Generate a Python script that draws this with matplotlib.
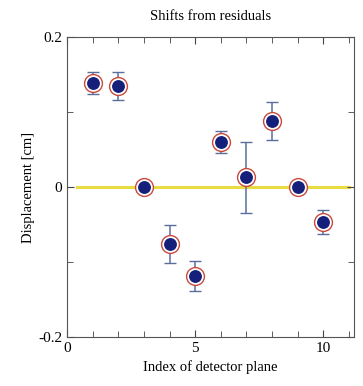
import numpy as np
import matplotlib
matplotlib.use("Agg")
import matplotlib.pyplot as plt
from matplotlib.ticker import MultipleLocator, FuncFormatter

plt.rcParams['font.family'] = ['Liberation Serif', 'DejaVu Serif']
plt.rcParams['axes.unicode_minus'] = False

# data
plane = np.array([1, 2, 3, 4, 5, 6, 7, 8, 9, 10])
shift = np.array([0.139, 0.135, 0.0, -0.076, -0.119, 0.060, 0.013, 0.088, 0.0, -0.047])
shift_err = np.array([0.015, 0.019, 0.0, 0.025, 0.020, 0.015, 0.047, 0.025, 0.0, 0.016])
zero_x = [0.4, 11.0]

fig = plt.figure(figsize=(3.63, 3.86), dpi=100)
ax = fig.add_axes([0.185, 0.127, 0.79, 0.777])

ax.plot(zero_x, [0, 0], color='#e8dc40', lw=2.2, zorder=1)
ax.errorbar(plane, shift, yerr=shift_err, fmt='none', ecolor='#5a6e9e',
            elinewidth=1.1, capsize=4, capthick=1.0, zorder=2)
ax.scatter(plane, shift, s=165, facecolor='white', edgecolor='#c84a3c',
           linewidths=1.0, zorder=3)
ax.scatter(plane, shift, s=68, color='#14207a', zorder=4)

ax.set_xlim(0, 11.2)
ax.set_ylim(-0.2, 0.2)
ax.xaxis.set_major_locator(MultipleLocator(5))
ax.xaxis.set_minor_locator(MultipleLocator(1))
ax.yaxis.set_major_locator(MultipleLocator(0.2))
ax.yaxis.set_minor_locator(MultipleLocator(0.1))
ax.yaxis.set_major_formatter(FuncFormatter(lambda v, p: '0' if abs(v) < 1e-9 else f'{v:g}'))
ax.tick_params(which='both', direction='in', top=True, right=True,
               labelsize=11, color='#444444')
ax.tick_params(which='major', length=5)
ax.tick_params(which='minor', length=4)
for s in ax.spines.values():
    s.set_color('#555555')

ax.set_title('Shifts from residuals', fontsize=10.5, pad=12)
ax.set_xlabel('Index of detector plane', fontsize=10.5)
ax.set_ylabel('Displacement [cm]', fontsize=10.5, labelpad=2)

fig.savefig('out.png', dpi=100)
